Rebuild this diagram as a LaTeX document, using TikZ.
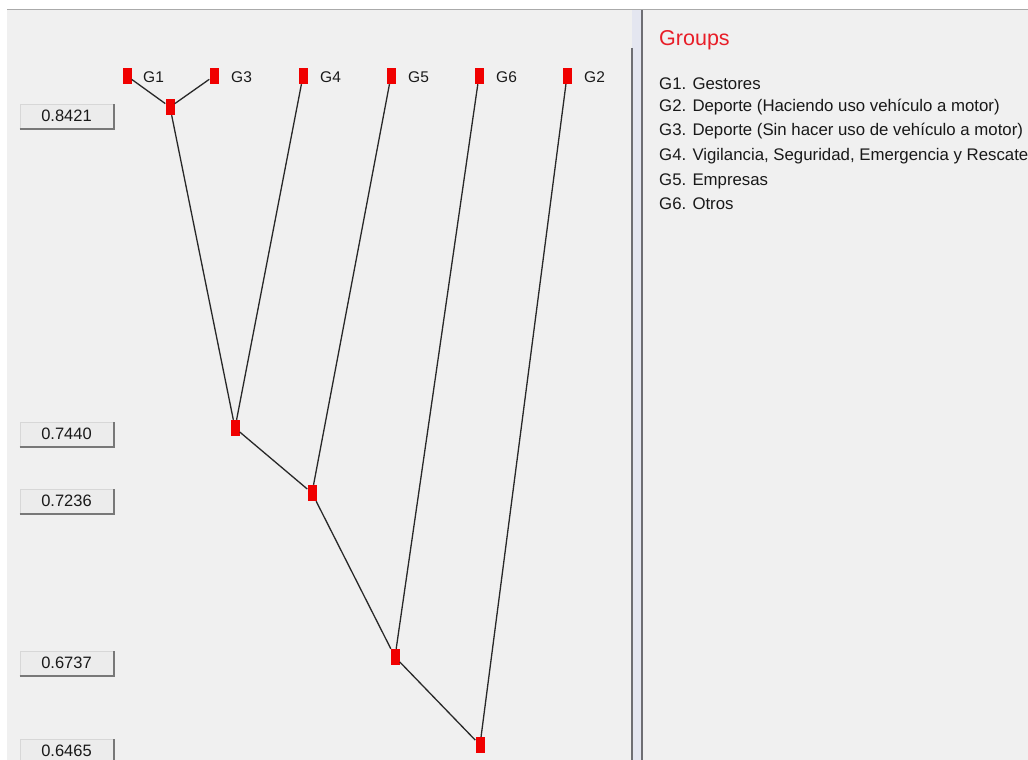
\documentclass[tikz,border=0pt]{standalone}
\usepackage{fontspec}
\setmainfont{Liberation Sans}
\begin{document}
\begin{tikzpicture}[x=1pt,y=-1pt,
  leaf/.style={fill=nodered,draw=none,minimum width=9pt,minimum height=16pt,inner sep=0pt},
  lbl/.style={anchor=west,inner sep=0pt,font=\fontsize{15.5}{18}\selectfont,text=txt},
  link/.style={draw=linkc,line width=1.3pt},
  btn/.style={fill=btnfill,draw=btnlight,line width=1pt,minimum width=93pt,minimum height=24pt,inner sep=0pt,font=\fontsize{16.5}{18}\selectfont,text=txt},
  shade/.style={draw=btndark,line width=2pt},
  legend/.style={anchor=west,inner sep=0pt,font=\fontsize{16.8}{18}\selectfont,text=txt}]
\definecolor{nodered}{RGB}{240,0,0}
\definecolor{bg}{RGB}{240,240,240}
\definecolor{txt}{RGB}{25,25,25}
\definecolor{linkc}{RGB}{40,40,40}
\definecolor{btnfill}{RGB}{236,236,236}
\definecolor{btnlight}{RGB}{215,215,215}
\definecolor{btndark}{RGB}{120,120,120}
\definecolor{titlered}{RGB}{232,30,40}
\definecolor{topline}{RGB}{170,170,170}
\definecolor{divfill}{RGB}{228,230,240}
\definecolor{divdark}{RGB}{110,110,115}
\useasboundingbox (0,0) rectangle (1028,760);
\fill[white] (0,0) rectangle (1028,760);
\fill[bg] (7,10) rectangle (1028,760);
\draw[topline,line width=1.5pt] (7,9.5) -- (1028,9.5);
% divider
\fill[divfill] (632,10) rectangle (642,760);
\draw[divdark,line width=2pt] (631.5,48) -- (631.5,760);
\draw[divdark,line width=2pt] (642,10) -- (642,760);
% leaves
\node[leaf] (g1) at (127,76) {};
\node[leaf] (g3) at (214,76) {};
\node[leaf] (g4) at (303,76) {};
\node[leaf] (g5) at (391,76) {};
\node[leaf] (g6) at (479,76) {};
\node[leaf] (g2) at (567,76) {};
\node[lbl] (l1) at (143,77) {G1};
\node[lbl] (l3) at (231,77) {G3};
\node[lbl] (l4) at (320,77) {G4};
\node[lbl] (l5) at (408,77) {G5};
\node[lbl] (l6) at (496,77) {G6};
\node[lbl] (l2) at (584,77) {G2};
% internal nodes
\node[leaf] (n1) at (170,107) {};
\node[leaf] (n2) at (235,428) {};
\node[leaf] (n3) at (312,493) {};
\node[leaf] (n4) at (395,657) {};
\node[leaf] (n5) at (480,745) {};
% links
\draw[link] (g1) -- (n1);
\draw[link] (g3) -- (n1);
\draw[link] (n1) -- (n2);
\draw[link] (g4) -- (n2);
\draw[link] (n2) -- (n3);
\draw[link] (g5) -- (n3);
\draw[link] (n3) -- (n4);
\draw[link] (g6) -- (n4);
\draw[link] (n4) -- (n5);
\draw[link] (g2) -- (n5);
% buttons
\node[btn] (b1) at (66.5,116) {0.8421};
\node[btn] (b2) at (66.5,434) {0.7440};
\node[btn] (b3) at (66.5,501) {0.7236};
\node[btn] (b4) at (66.5,663) {0.6737};
\node[btn] (b5) at (66.5,751) {0.6465};
\foreach \b in {b1,b2,b3,b4,b5}{
  \draw[shade] (\b.south west) -- (\b.south east) -- (\b.north east);
}
% legend
\node[anchor=west,inner sep=0pt,font=\fontsize{21.5}{24}\selectfont,text=titlered] (title) at (659,40) {Groups};
\node[legend] (t1) at (659,84) {G1. Gestores};
\node[legend] (t2) at (659,107) {G2. Deporte (Haciendo uso vehículo a motor)};
\node[legend] (t3) at (659,131) {G3. Deporte (Sin hacer uso de vehículo a motor)};
\node[legend] (t4) at (659,156) {G4. Vigilancia, Seguridad, Emergencia y Rescate};
\node[legend] (t5) at (659,181) {G5. Empresas};
\node[legend] (t6) at (659,204) {G6. Otros};
\end{tikzpicture}
\end{document}
